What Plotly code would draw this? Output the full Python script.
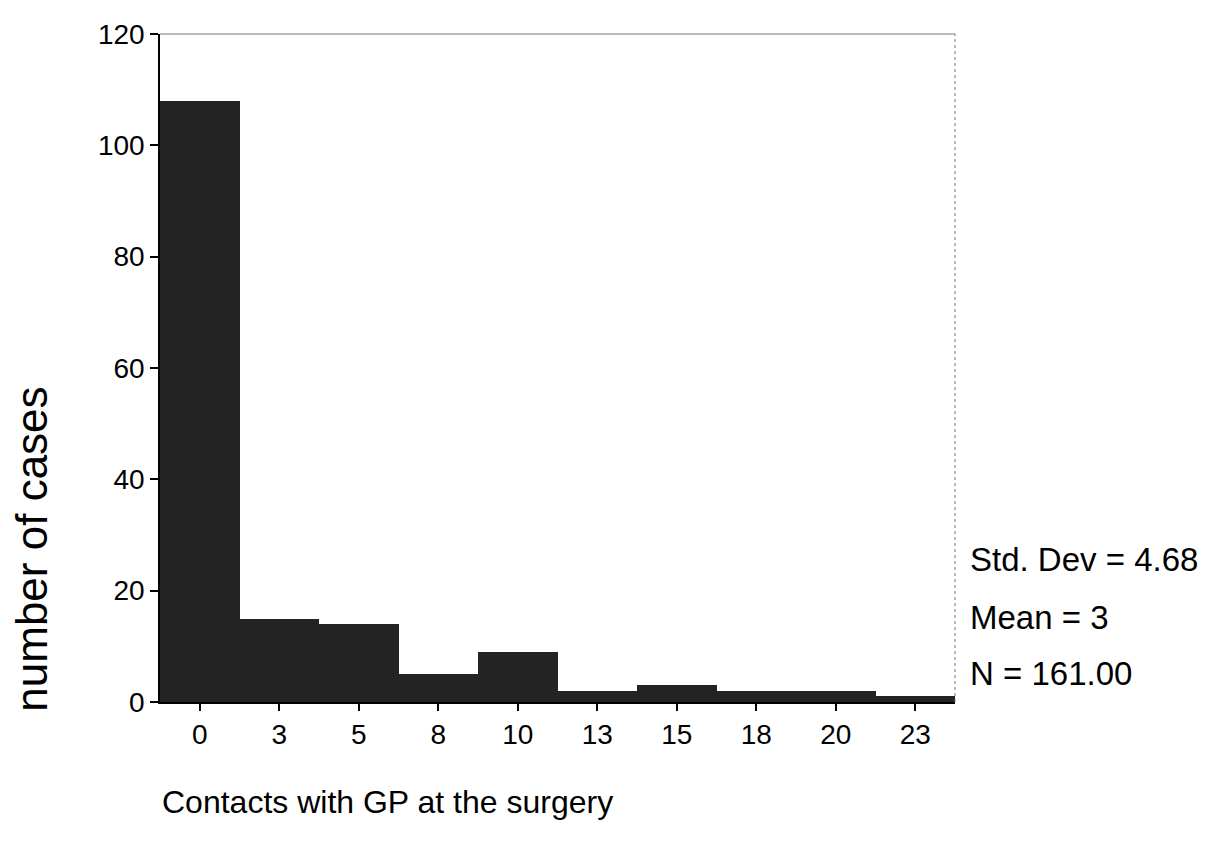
import plotly.graph_objects as go

# Data
bin_centers = [0, 2.5, 5, 7.5, 10, 12.5, 15, 17.5, 20, 22.5]
tick_labels = ["0", "3", "5", "8", "10", "13", "15", "18", "20", "23"]
counts = [108, 15, 14, 5, 9, 2, 3, 2, 2, 1]
y_ticks = [0, 20, 40, 60, 80, 100, 120]
stats_lines = ["Std. Dev = 4.68", "Mean = 3", "N = 161.00"]
x_title = "Contacts with GP at the surgery"
y_title = "number of cases"

FONT = "Arial, Liberation Sans, sans-serif"

fig = go.Figure()
fig.add_trace(go.Bar(
    x=bin_centers, y=counts, width=2.5,
    marker=dict(color="#232323", line=dict(width=0)),
    showlegend=False,
))

fig.update_layout(
    width=1200, height=848,
    margin=dict(l=152, r=253, t=26, b=154),
    paper_bgcolor="white", plot_bgcolor="white",
    font=dict(family=FONT, color="black", size=28),
    bargap=0,
    xaxis=dict(
        range=[-1.25, 23.75],
        tickmode="array", tickvals=bin_centers, ticktext=tick_labels,
        ticks="outside", ticklen=7, tickwidth=1.5, tickcolor="black",
        showline=True, linecolor="black", linewidth=1.5,
        showgrid=False, zeroline=False,
        tickfont=dict(size=28, family=FONT),
    ),
    yaxis=dict(
        range=[0, 120],
        tickmode="array", tickvals=y_ticks,
        ticks="outside", ticklen=8, tickwidth=1.5, tickcolor="black",
        showline=True, linecolor="black", linewidth=1.5,
        showgrid=False, zeroline=False,
        tickfont=dict(size=28, family=FONT),
    ),
)

# frame (top/right)
fig.add_shape(type="line", xref="paper", yref="paper", x0=0, x1=1, y0=1, y1=1,
              line=dict(color="#777777", width=1))
fig.add_shape(type="line", xref="paper", yref="paper", x0=1, x1=1, y0=0, y1=1,
              line=dict(color="#777777", width=1, dash="dot"))
# bottom axis extension to the left
fig.add_shape(type="line", xref="paper", yref="paper", x0=-0.01, x1=0, y0=0, y1=0,
              line=dict(color="black", width=1.5))

# axis titles as annotations
fig.add_annotation(text=y_title, xref="paper", yref="paper", x=-0.161, y=0.228,
                   textangle=-90, showarrow=False, xanchor="center", yanchor="middle",
                   font=dict(size=44, family=FONT))
fig.add_annotation(text=x_title, xref="paper", yref="paper", x=0, y=-0.15,
                   showarrow=False, xanchor="left", yanchor="middle",
                   font=dict(size=32, family=FONT))

# stats text
stat_y = [559, 617, 673]
for line, yp in zip(stats_lines, stat_y):
    fig.add_annotation(text=line, xref="paper", yref="paper",
                       x=(968 - 160) / 795, y=(702 - yp) / 668,
                       showarrow=False, xanchor="left", yanchor="middle",
                       font=dict(size=33, family=FONT))

fig.write_html("out.html")
